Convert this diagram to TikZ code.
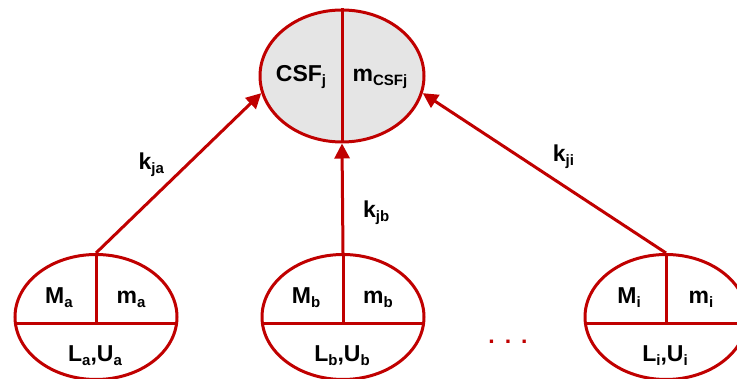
\documentclass[tikz,border=0pt]{standalone}
\usepackage{fontspec}
\setmainfont{Liberation Sans}
\usetikzlibrary{arrows.meta,calc,positioning,shapes.geometric}
\definecolor{csfred}{HTML}{C00000}
\newcommand{\sbs}[1]{\raisebox{-3.5pt}{\fontsize{15}{15}\selectfont #1}}

\begin{document}
\begin{tikzpicture}[x=1pt,y=-1pt,
  cell/.style={draw=csfred,ellipse,line width=3pt,inner sep=0pt,
               minimum width=162pt,minimum height=125pt},
  lab/.style={font=\fontsize{23}{27}\selectfont\bfseries,inner sep=1pt},
  split/.style={draw=csfred,line width=3pt},
  flow/.style={draw=csfred,line width=3pt,-{Triangle[length=15pt,width=15pt]}}]
  \useasboundingbox (0,0) rectangle (737,379);
  % target cluster
  \node[cell,fill=black!10,minimum width=164pt,minimum height=132pt] (csf) at (342,76) {};
  \draw[split] (csf.north) -- (csf.south);
  \node[lab,anchor=base] (csfname) at ($(csf.center)+(-41,6)$) {CSF\sbs{j}};
  \node[lab,anchor=base] (csfmass) at ($(csf.center)+(38,6)$) {m\sbs{CSFj}};
  % source clusters
  \node[cell] (a) at (96,317) {};
  \node[cell] (b) at (343,317) {};
  \node[cell] (i) at (666,317) {};
  \draw[split] (a.north) -- ($(a.center)+(0,7)$);
  \draw[split] ($(a.center)+(-80.5,7)$) -- ($(a.center)+(80.5,7)$);
  \draw[split] (b.north) -- ($(b.center)+(0,7)$);
  \draw[split] ($(b.center)+(-80.5,7)$) -- ($(b.center)+(80.5,7)$);
  \draw[split] (i.north) -- ($(i.center)+(0,7)$);
  \draw[split] ($(i.center)+(-80.5,7)$) -- ($(i.center)+(80.5,7)$);
  \node[lab,anchor=base] (ma) at ($(a.center)+(-37,-13)$) {M\sbs{a}};
  \node[lab,anchor=base] (mma) at ($(a.center)+(35,-13)$) {m\sbs{a}};
  \node[lab,anchor=base] (lua) at ($(a.center)+(-1,45)$) {L\sbs{a},U\sbs{a}};
  \node[lab,anchor=base] (mb) at ($(b.center)+(-37,-13)$) {M\sbs{b}};
  \node[lab,anchor=base] (mmb) at ($(b.center)+(35,-13)$) {m\sbs{b}};
  \node[lab,anchor=base] (lub) at ($(b.center)+(-1,45)$) {L\sbs{b},U\sbs{b}};
  \node[lab,anchor=base] (mi) at ($(i.center)+(-37,-13)$) {M\sbs{i}};
  \node[lab,anchor=base] (mmi) at ($(i.center)+(35,-13)$) {m\sbs{i}};
  \node[lab,anchor=base] (lui) at ($(i.center)+(-1,45)$) {L\sbs{i},U\sbs{i}};
  \node[lab,text=csfred,anchor=base] (dots) at (508,344) {.\hspace{10pt}.\hspace{10pt}.};
  % links
  \draw[flow] (a.north) -- node[lab,pos=.45,above left=2pt and 4pt] (kja) {k\sbs{ja}} (csf.192);
  \draw[flow] (b.north) -- node[lab,pos=.37,right=18pt] (kjb) {k\sbs{jb}} (csf.south);
  \draw[flow] (i.north) -- node[lab,pos=.5,above right=2pt and 6pt] (kji) {k\sbs{ji}} (csf.-12);
\end{tikzpicture}
\end{document}
